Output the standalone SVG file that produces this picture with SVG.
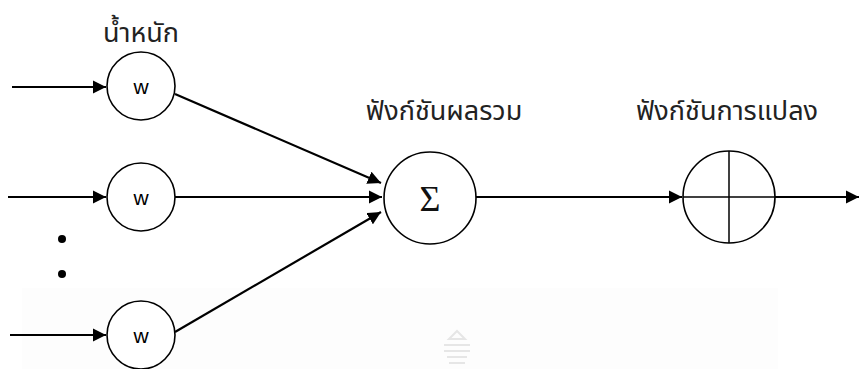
<svg xmlns="http://www.w3.org/2000/svg" width="861" height="369" viewBox="0 0 861 369">
<defs>
<style>
.node{fill:#fff;stroke:#000;stroke-width:1.6}
.edge{stroke:#000;stroke-width:2.2;fill:none}
.thin{stroke:#000;stroke-width:1.5}
.lbl{font-family:"Noto Sans Thai","Noto Sans","DejaVu Sans",sans-serif;font-size:27px;fill:#222;text-anchor:middle}
.w{font-family:"Liberation Sans",Arial,sans-serif;font-size:21px;fill:#000;text-anchor:middle}
</style>
<marker id="ah" viewBox="0 0 10 10" refX="10" refY="5" markerWidth="6" markerHeight="6" markerUnits="strokeWidth" orient="auto">
<path d="M0,0 L10,5 L0,10 z" fill="#000"/>
</marker>
</defs>
<rect width="861" height="369" fill="#fff"/>
<rect x="22" y="288" width="756" height="81" fill="#fdfdfd"/>
<g id="watermark" fill="none" stroke="#e6e6e6" stroke-width="2">
<path d="M449,339 L457,331 L465,339 Z"/>
<path d="M444,345 L470,345 M444,351 L470,351 M447,357 L467,357 M449,363 L465,363"/>
</g>
<g id="connectors">
<line class="edge" x1="12" y1="87" x2="106" y2="87" marker-end="url(#ah)"/>
<line class="edge" x1="8" y1="197" x2="106" y2="197" marker-end="url(#ah)"/>
<line class="edge" x1="10" y1="335" x2="106" y2="335" marker-end="url(#ah)"/>
<line class="edge" x1="175" y1="94" x2="381" y2="183" marker-end="url(#ah)"/>
<line class="edge" x1="175" y1="197" x2="382" y2="197" marker-end="url(#ah)"/>
<line class="edge" x1="175" y1="332" x2="381" y2="212" marker-end="url(#ah)"/>
<line class="edge" x1="476" y1="197" x2="682" y2="197" marker-end="url(#ah)"/>
<line class="edge" x1="775" y1="197" x2="859" y2="197" marker-end="url(#ah)"/>
</g>
<g id="label-weight"><text class="lbl" x="141" y="42">น้ำหนัก</text></g>
<g id="w1"><circle class="node" cx="141" cy="86" r="34"/><text class="w" x="141" y="94">w</text></g>
<g id="w2"><circle class="node" cx="141" cy="197" r="34"/><text class="w" x="141" y="205">w</text></g>
<g id="w3"><circle class="node" cx="141" cy="335" r="34"/><text class="w" x="141" y="343">w</text></g>
<g id="dots"><circle cx="62" cy="239" r="4" fill="#000"/><circle cx="62" cy="274" r="4" fill="#000"/></g>
<g id="sum"><text class="lbl" x="444" y="120">ฟังก์ชันผลรวม</text><circle class="node" cx="430" cy="198" r="46"/><text x="430" y="211" font-family="Liberation Serif, serif" font-size="36" text-anchor="middle" fill="#111">Σ</text></g>
<g id="transfer"><text class="lbl" x="727" y="120">ฟังก์ชันการแปลง</text><circle class="node" cx="729" cy="197" r="46"/><line class="thin" x1="729" y1="151" x2="729" y2="243"/><line class="thin" x1="683" y1="197" x2="775" y2="197"/></g>
</svg>
